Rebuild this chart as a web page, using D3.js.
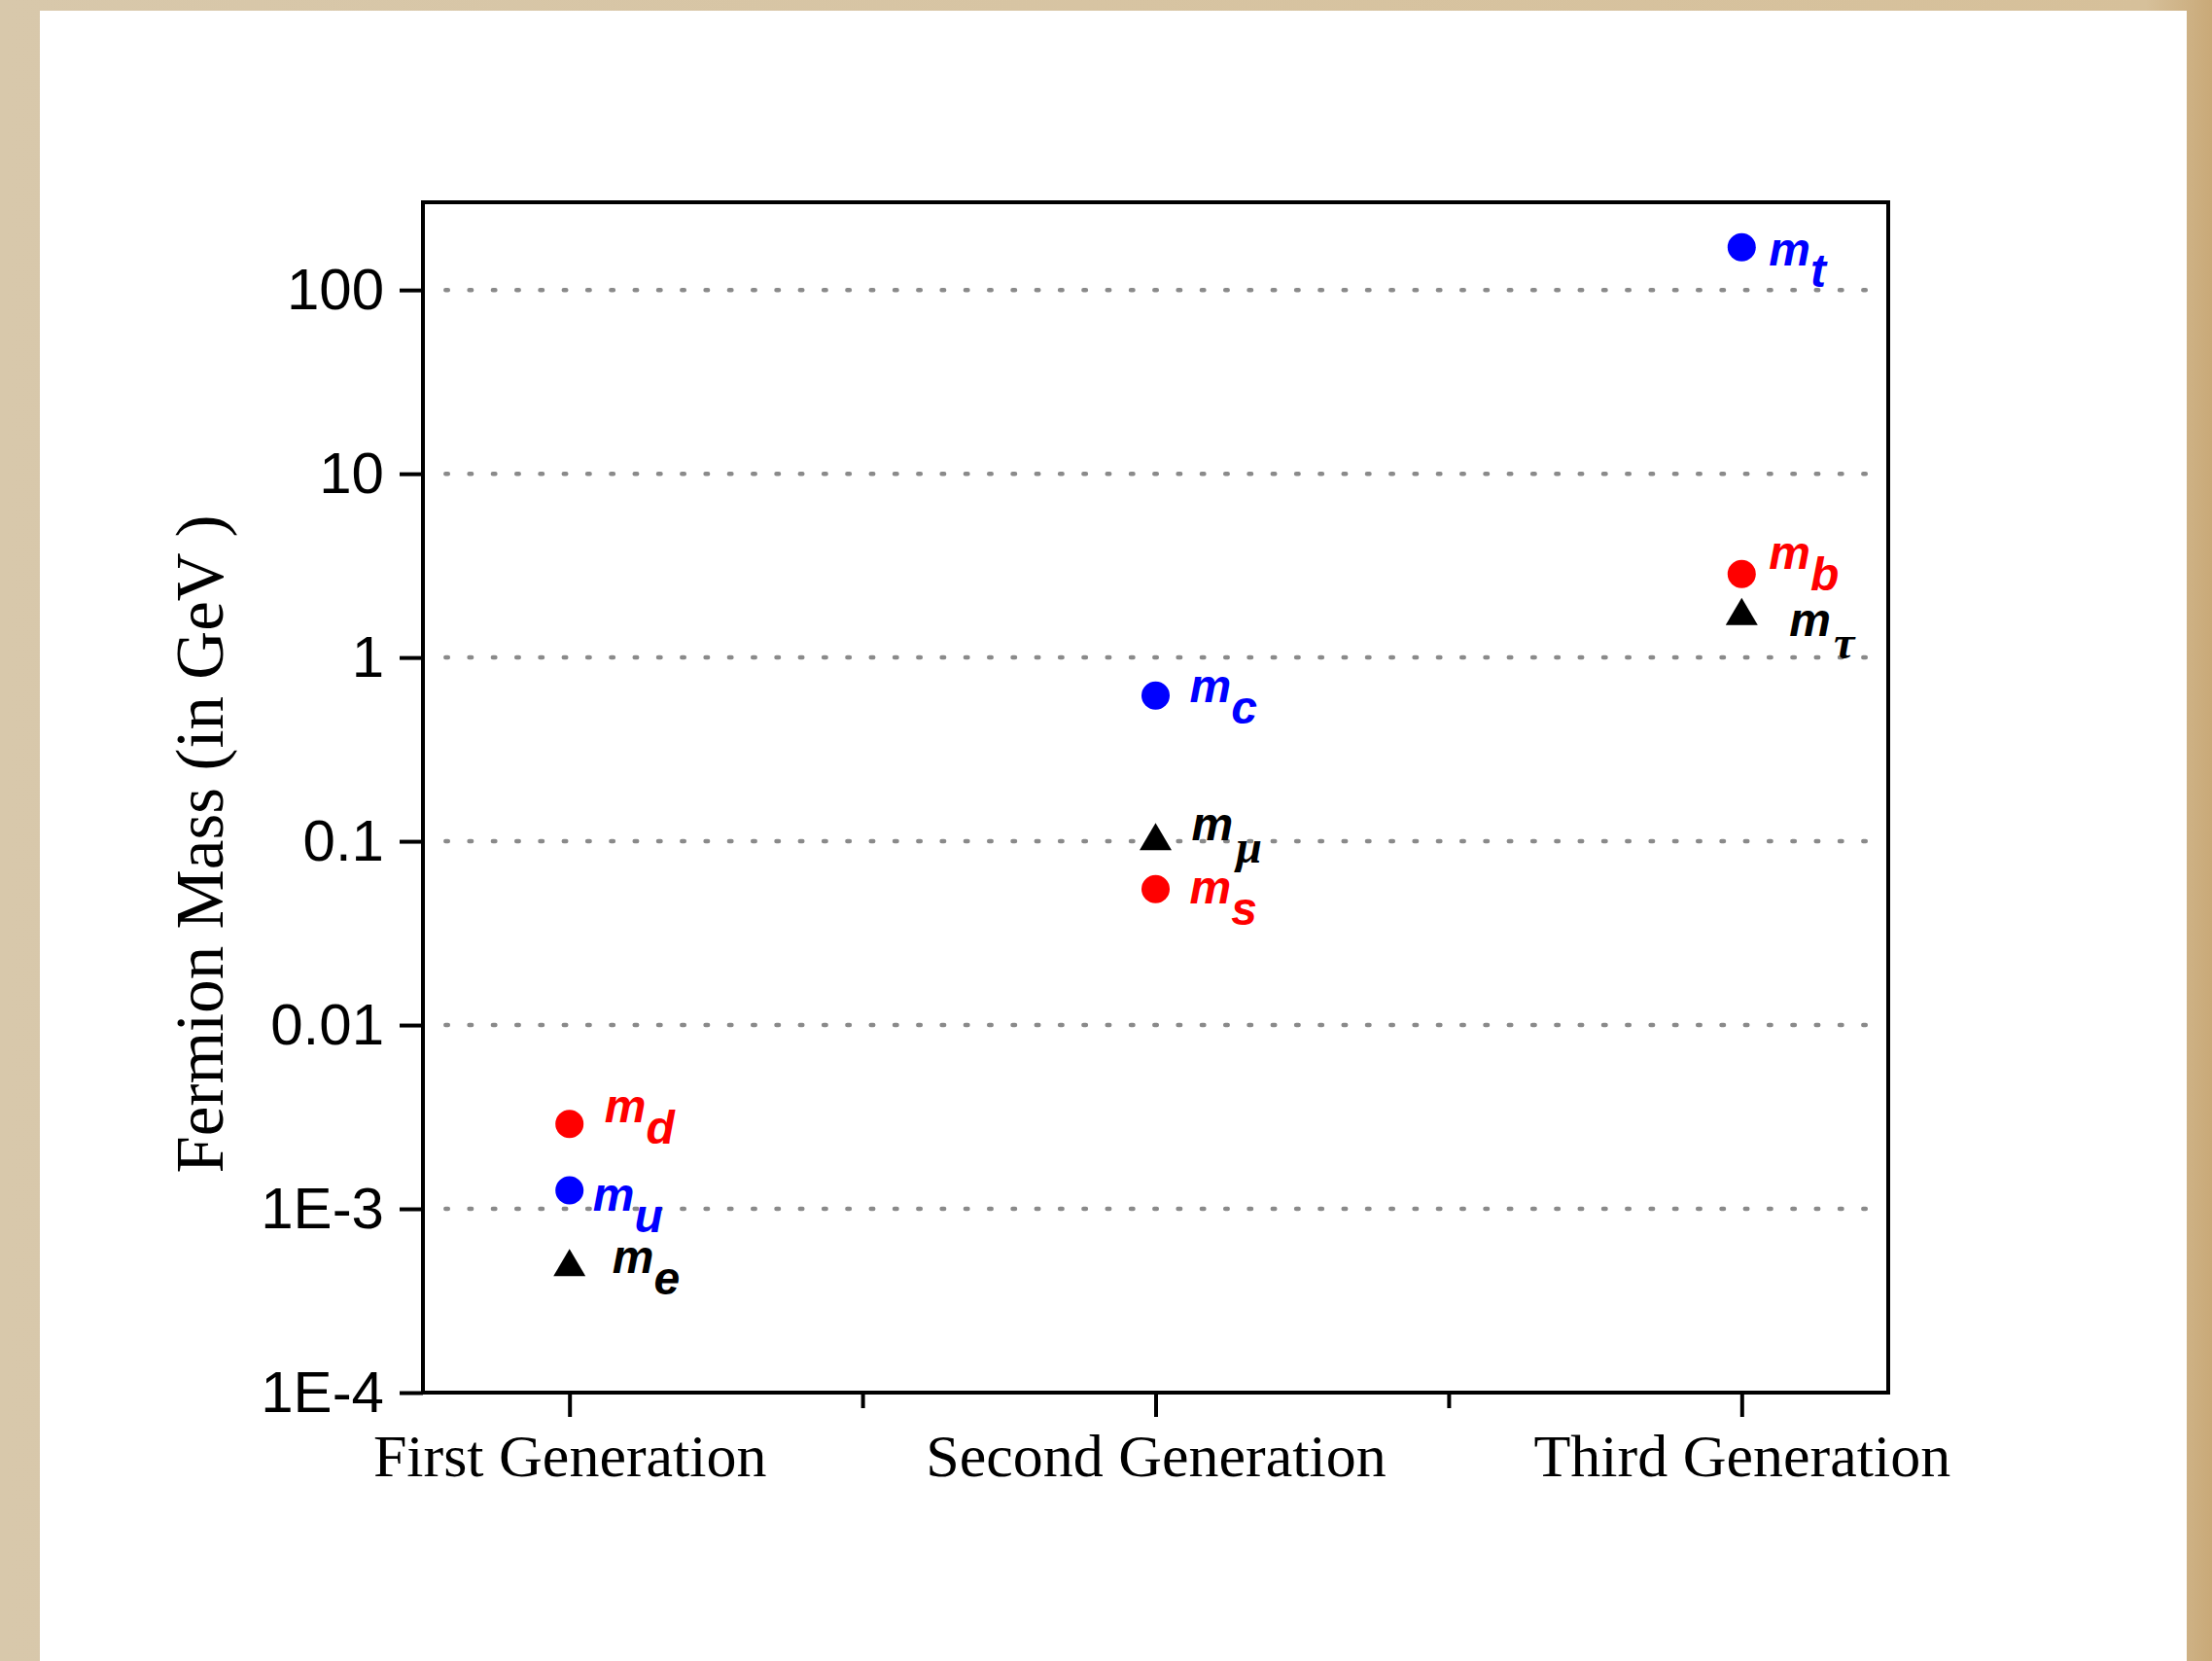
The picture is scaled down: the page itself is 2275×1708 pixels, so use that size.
<!DOCTYPE html>
<html>
<head>
<meta charset="utf-8">
<script src="https://cdn.jsdelivr.net/npm/d3@7"></script>
<style>
  html, body { margin: 0; padding: 0; background: #d6c5a7; }
  svg { display: block; }
</style>
</head>
<body>
<svg id="chart" width="2275" height="1708"></svg>
<script>
// ---- data ----
const generations = ["First Generation", "Second Generation", "Third Generation"];
const particles   = ["d", "u", "e", "c", "μ", "s", "t", "b", "τ"];
const particleGen = [1, 1, 1, 2, 2, 2, 3, 3, 3];
const masses      = [0.0029, 0.00126, 0.000511, 0.62, 0.106, 0.055, 171, 2.85, 1.78];
const kinds       = ["downQuark", "upQuark", "lepton", "upQuark", "lepton", "downQuark", "upQuark", "downQuark", "lepton"];
const yTickValues = [1e-4, 1e-3, 1e-2, 1e-1, 1, 10, 100];
const yTickLabels = ["1E-4", "1E-3", "0.01", "0.1", "1", "10", "100"];
const yTitle = "Fermion Mass (in GeV )";

// ---- annotation placement (pixel offsets of the "m" label from its marker) ----
const labelDx = [36, 24, 44, 35, 37, 35, 28, 28, 49];
const labelDy = [-2, 21, 11, 7, 4, 15, 19, -5, 25];

const kindColor = { downQuark: "#ff0000", upQuark: "#0000ff", lepton: "#000000" };

const svg = d3.select("#chart");

// background paper & card
const defs = svg.append("defs");
const grad = defs.append("linearGradient").attr("id", "paper").attr("x1", 0).attr("x2", 1);
grad.append("stop").attr("offset", "0").attr("stop-color", "#d8c8ab");
grad.append("stop").attr("offset", "0.97").attr("stop-color", "#d6c09a");
grad.append("stop").attr("offset", "1").attr("stop-color", "#c9a978");
svg.append("rect").attr("width", 2275).attr("height", 1708).attr("fill", "url(#paper)");
svg.append("rect").attr("x", 41).attr("y", 11).attr("width", 2208).attr("height", 1720).attr("fill", "#ffffff");

const L = 435, R = 1942, T = 208, B = 1432;

const x = d3.scaleLinear().domain([0.75, 3.25]).range([L, R]);
const y = d3.scaleLog().domain([1e-4, 300]).range([B, T]);

// grid lines (dotted)
svg.append("g").selectAll("line")
  .data(yTickValues.filter(v => v > 1e-4))
  .join("line")
  .attr("x1", L + 4).attr("x2", R - 4)
  .attr("y1", d => y(d)).attr("y2", d => y(d))
  .attr("stroke", "#8a8a8a")
  .attr("stroke-width", 4.5)
  .attr("stroke-linecap", "round")
  .attr("stroke-dasharray", "2.5 21.8")
  .attr("stroke-dashoffset", 5);

// Y axis
const yAxis = svg.append("g")
  .attr("transform", `translate(${L},0)`)
  .call(d3.axisLeft(y).tickValues(yTickValues)
    .tickFormat((d, i) => yTickLabels[i]).tickSize(24).tickPadding(16));
yAxis.select(".domain").remove();
yAxis.selectAll(".tick line").attr("stroke", "#000").attr("stroke-width", 4);
yAxis.selectAll(".tick text")
  .attr("font-family", "'Liberation Sans', Arial, sans-serif")
  .attr("font-size", 60).attr("fill", "#000");

// X axis (major)
const xAxis = svg.append("g")
  .attr("transform", `translate(0,${B})`)
  .call(d3.axisBottom(x).tickValues([1, 2, 3])
    .tickFormat(d => generations[d - 1]).tickSize(25).tickPadding(17));
xAxis.select(".domain").remove();
xAxis.selectAll(".tick line").attr("stroke", "#000").attr("stroke-width", 4);
xAxis.selectAll(".tick text")
  .attr("font-family", "'Liberation Serif', 'Times New Roman', serif")
  .attr("font-size", 62).attr("fill", "#000");

// X axis (minor)
const xMinor = svg.append("g")
  .attr("transform", `translate(0,${B})`)
  .call(d3.axisBottom(x).tickValues([1.5, 2.5]).tickFormat("").tickSize(16));
xMinor.select(".domain").remove();
xMinor.selectAll(".tick line").attr("stroke", "#000").attr("stroke-width", 4);

// frame
svg.append("rect")
  .attr("x", L).attr("y", T).attr("width", R - L).attr("height", B - T)
  .attr("fill", "none").attr("stroke", "#000").attr("stroke-width", 4);

// Y title
svg.append("text")
  .attr("transform", "translate(229,868) rotate(-90)")
  .attr("text-anchor", "middle")
  .attr("font-family", "'Liberation Serif', 'Times New Roman', serif")
  .attr("font-size", 69)
  .attr("fill", "#000")
  .text(yTitle);

// points
const pts = particles.map((p, i) => ({
  name: p, gen: particleGen[i], mass: masses[i], kind: kinds[i],
  dx: labelDx[i], dy: labelDy[i]
}));

const triW = 33, triH = 28;
const g = svg.append("g");
g.selectAll("circle")
  .data(pts.filter(d => d.kind !== "lepton"))
  .join("circle")
  .attr("cx", d => x(d.gen)).attr("cy", d => y(d.mass))
  .attr("r", 14.5)
  .attr("fill", d => kindColor[d.kind]);

g.selectAll("path.tri")
  .data(pts.filter(d => d.kind === "lepton"))
  .join("path")
  .attr("class", "tri")
  .attr("transform", d => `translate(${x(d.gen)},${y(d.mass)})`)
  .attr("d", `M0,${-triH / 2}L${triW / 2},${triH / 2}L${-triW / 2},${triH / 2}Z`)
  .attr("fill", "#000");

// labels
const greek = new Set(["μ", "τ"]);
const lab = g.selectAll("text.lab")
  .data(pts)
  .join("text")
  .attr("class", "lab")
  .attr("x", d => x(d.gen) + d.dx)
  .attr("y", d => y(d.mass) + d.dy)
  .attr("fill", d => kindColor[d.kind])
  .attr("font-family", "'Liberation Sans', Arial, sans-serif")
  .attr("font-weight", "bold")
  .attr("font-style", "italic")
  .attr("font-size", 48);
lab.append("tspan").text("m");
lab.append("tspan")
  .attr("dy", d => greek.has(d.name) ? 23 : 22)
  .attr("dx", d => greek.has(d.name) ? 3 : 0)
  .attr("font-family", d => greek.has(d.name) ? "'Liberation Serif', 'DejaVu Serif', serif" : null)
  .attr("font-weight", "bold")
  .attr("font-size", d => greek.has(d.name) ? 48 : null)
  .text(d => d.name);
</script>
</body>
</html>
